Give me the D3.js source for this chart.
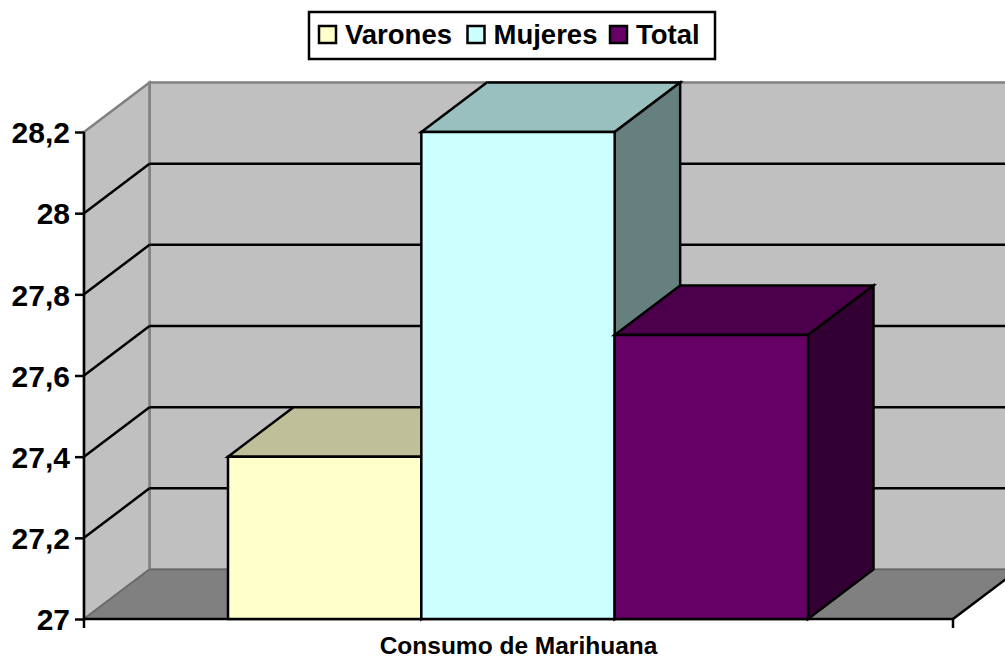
<!DOCTYPE html>
<html><head><meta charset="utf-8">
<script src="https://cdn.jsdelivr.net/npm/d3@7"></script>
<style>html,body{margin:0;padding:0;background:#fff;overflow:hidden}svg{display:block}
text{font-family:"Liberation Sans",Arial,sans-serif;font-weight:bold;fill:#000}</style>
</head><body><svg id="c" width="1005" height="658"></svg>
<script>
const categories = ["Consumo de Marihuana"];
const seriesNames = ["Varones","Mujeres","Total"];
const seriesValues = [27.4,28.2,27.7];
const seriesFront = ["#FFFFCC","#CCFFFF","#660066"];
const seriesTop = ["#BFBF99","#99BFBF","#4C004C"];
const seriesSide = ["#808066","#668080","#330033"];
const yTicks = [27,27.2,27.4,27.6,27.8,28,28.2];
const tickLabels = ["27","27,2","27,4","27,6","27,8","28","28,2"];

const svg = d3.select("#c");
const L=84,R=953,B=619,T=132,DX=65.5,DY=49.5;
const y = d3.scaleLinear().domain([27,28.2]).range([B,T]);
const xCat = d3.scaleBand().domain(categories).range([L,R]);
const xSer = d3.scaleBand().domain(seriesNames).range([228,808]);
const poly = (pts,fill,stroke,sw)=>svg.append("polygon").attr("points",pts.map(p=>p.join(",")).join(" "))
  .attr("fill",fill).attr("stroke",stroke).attr("stroke-width",sw).attr("stroke-linejoin","miter");
const line=(x1,y1,x2,y2,c,w)=>svg.append("line").attr("x1",x1).attr("y1",y1).attr("x2",x2).attr("y2",y2).attr("stroke",c).attr("stroke-width",w);

// walls and floor
poly([[L+DX,T-DY],[R+DX,T-DY],[R+DX,B-DY],[L+DX,B-DY]],"#C0C0C0","#808080",2.5);
poly([[L,T],[L+DX,T-DY],[L+DX,B-DY],[L,B]],"#C0C0C0","#808080",2.5);
poly([[L,B],[L+DX,B-DY],[R+DX,B-DY],[R,B]],"#808080","#666666",1.5);
line(R,B,R+DX,B-DY,"#000",2.5);

// gridlines
yTicks.slice(1,-1).forEach(t=>{
  line(L,y(t),L+DX,y(t)-DY,"#000",2.5);
  line(L+DX,y(t)-DY,R+DX,y(t)-DY,"#000",2.5);
});

// y axis
const yAxis = d3.axisLeft(y).tickValues(yTicks).tickSize(9).tickPadding(5)
  .tickFormat((d,i)=>tickLabels[i]);
const gy = svg.append("g").attr("transform",`translate(${L},0)`).call(yAxis);
gy.select(".domain").remove();
gy.selectAll("line").attr("stroke","#000").attr("stroke-width",2.5);
gy.selectAll("text").style("font-size","30px").attr("dy","0.36em").attr("fill","#000");
line(L,T,L,628,"#000",2.5);

// x axis
const gx = svg.append("g").attr("transform",`translate(0,${B})`).call(d3.axisBottom(xCat).tickSize(0).tickPadding(18));
gx.select(".domain").remove();
gx.selectAll("text").style("font-size","24.5px").attr("fill","#000");
line(L,B,R,B,"#000",2.5);
line(R,B,R,628,"#000",2.5);

// bars
seriesNames.forEach((s,i)=>{
  const x0=xSer(s), x1=x0+xSer.bandwidth(), yv=y(seriesValues[i]);
  poly([[x0,yv],[x1,yv],[x1+DX,yv-DY],[x0+DX,yv-DY]],seriesTop[i],"#000",2.5);
  poly([[x1,yv],[x1+DX,yv-DY],[x1+DX,B-DY],[x1,B]],seriesSide[i],"#000",2.5);
  poly([[x0,yv],[x1,yv],[x1,B],[x0,B]],seriesFront[i],"#000",2.5);
});

// legend
svg.append("rect").attr("x",309).attr("y",12).attr("width",406).attr("height",47).attr("fill","#fff").attr("stroke","#000").attr("stroke-width",2.5);
const legendX = d3.scaleOrdinal().domain(seriesNames).range([319,467.5,610]);
seriesNames.forEach((s,i)=>{
  const lx=legendX(s);
  svg.append("rect").attr("x",lx).attr("y",26).attr("width",17).attr("height",17).attr("fill",seriesFront[i]).attr("stroke","#000").attr("stroke-width",2.5);
  svg.append("text").attr("x",lx+26).attr("y",44).style("font-size","27.5px").text(s);
});
</script></body></html>
